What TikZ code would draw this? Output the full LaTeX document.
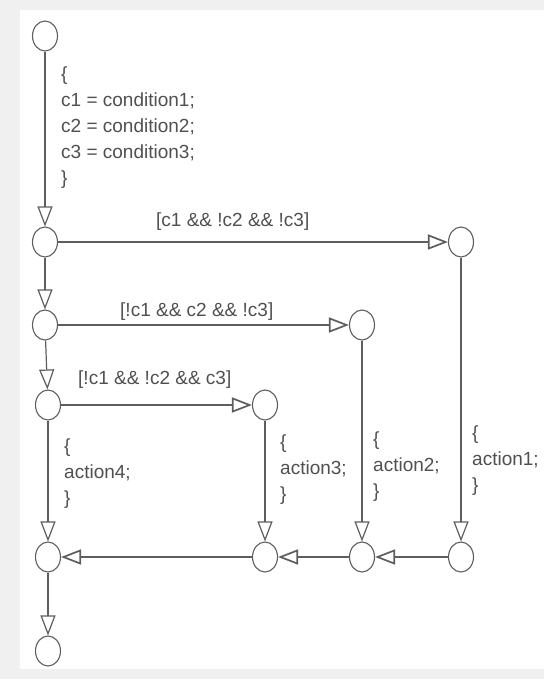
\documentclass[tikz,border=0pt]{standalone}
\usepackage{fontspec}
\setmainfont{Liberation Sans}
\usepackage{xcolor}
\usetikzlibrary{arrows.meta,shapes.geometric}

\definecolor{linegray}{HTML}{5E5E5E}
\definecolor{textgray}{HTML}{505050}
\definecolor{bggray}{HTML}{F0F0F0}

\begin{document}
\begin{tikzpicture}[
    x=1pt, y=-1pt,
    junction/.style={draw=linegray, ellipse, line width=1.1pt, minimum width=25pt, minimum height=30pt, inner sep=0pt},
    code/.style={align=left, anchor=west, inner sep=0pt, text=textgray, font=\fontsize{19}{26}\selectfont},
    guard/.style={anchor=west, inner sep=0pt, text=textgray, font=\fontsize{19}{26}\selectfont},
    arrow/.style={-{Triangle[open, length=20pt, width=15pt]}, draw=linegray, line width=1.2pt},
    harrow/.style={arrow, line width=1.7pt}
]
\useasboundingbox (0,0) rectangle (544,679);
\fill[bggray] (0,0) rectangle (544,679);
\fill[white] (20,10) rectangle (544,669);

% left column
\node[junction] (start) at (45,36) {};
\node[junction] (j1) at (45,242) {};
\node[junction] (j2) at (45,325) {};
\node[junction] (j3) at (48,405) {};
\node[junction] (merge0) at (48,557) {};
\node[junction] (stop) at (48,651) {};

% branch ends
\node[junction] (b1) at (461,242) {};
\node[junction] (b2) at (362,325) {};
\node[junction] (b3) at (265,405) {};

% merge row
\node[junction] (merge1) at (461,557) {};
\node[junction] (merge2) at (362,557) {};
\node[junction] (merge3) at (265,557) {};

% texts
\node[code] (init) at (61,128) {\{\\c1 = condition1;\\c2 = condition2;\\c3 = condition3;\\\}};
\node[guard] (g1) at (156,222) {[c1 \&\& !c2 \&\& !c3]};
\node[guard] (g2) at (120,312) {[!c1 \&\& c2 \&\& !c3]};
\node[guard] (g3) at (78,380) {[!c1 \&\& !c2 \&\& c3]};
\node[code] (act4) at (64,474) {\{\\action4;\\\}};
\node[code] (act3) at (280,470) {\{\\action3;\\\}};
\node[code] (act2) at (373,467) {\{\\action2;\\\}};
\node[code] (act1) at (472,461) {\{\\action1;\\\}};

\draw[arrow] (start) -- (j1);
\draw[harrow] (j1) -- (b1);
\draw[arrow] (j1) -- (j2);
\draw[harrow] (j2) -- (b2);
\draw[arrow] (j2) -- (j3);
\draw[harrow] (j3) -- (b3);
\draw[arrow] (j3) -- (merge0);
\draw[arrow] (b3) -- (merge3);
\draw[arrow] (b2) -- (merge2);
\draw[arrow] (b1) -- (merge1);
\draw[harrow] (merge1) -- (merge2);
\draw[harrow] (merge2) -- (merge3);
\draw[harrow] (merge3) -- (merge0);
\draw[arrow] (merge0) -- (stop);
\end{tikzpicture}
\end{document}
